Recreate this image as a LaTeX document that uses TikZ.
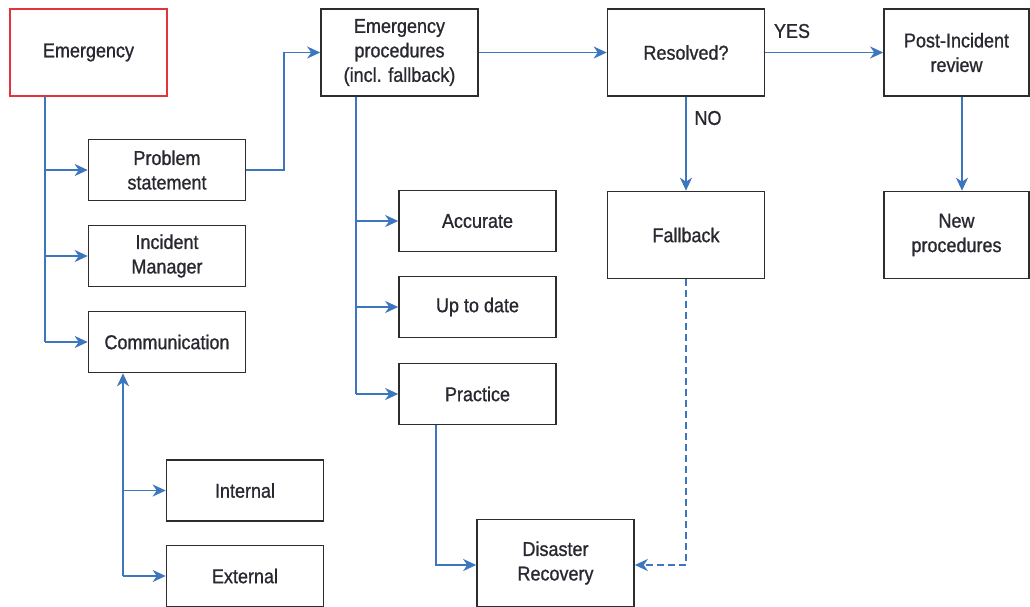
\documentclass[tikz,border=0pt]{standalone}
\usepackage{fontspec}
\setmainfont{Liberation Sans}[FakeStretch=0.9,FakeBold=1]
\usetikzlibrary{arrows.meta}
\definecolor{linkblue}{RGB}{59,118,190}
\definecolor{boxgrey}{RGB}{45,45,45}
\definecolor{alertred}{RGB}{228,50,62}
\definecolor{txtgrey}{RGB}{40,40,48}
\begin{document}
\begin{tikzpicture}[x=1pt,y=1pt,yscale=-1,xscale=1,
  box/.style={draw=boxgrey,line width=1.6pt,minimum width=157pt,minimum height=61pt,
    inner sep=0pt,align=center,text=txtgrey,font=\fontsize{20}{24.5}\selectfont},
  tall/.style={box,minimum height=87pt},
  link/.style={draw=linkblue,line width=1.8pt},
  arr/.style={link,-{Stealth[length=13pt,width=12pt,inset=4pt]}},
  lbl/.style={text=txtgrey,font=\fontsize{20}{24.5}\selectfont}]
\useasboundingbox (0,0) rectangle (1030,606);

%Boxes, left column
\node [tall,draw=alertred] (emerg) at (88.5,52.5) {Emergency};
\node [box] (prob) at (167,170) {Problem\\statement};
\node [box] (incid) at (167,256) {Incident\\Manager};
\node [box] (comm) at (167,342) {Communication};
\node [box] (intern) at (245,490.5) {Internal};
\node [box] (extern) at (245,576) {External};

%Boxes, middle
\node [tall] (proc) at (399.5,52.5) {Emergency\\procedures\\(incl. fallback)};
\node [box] (accur) at (477.5,221) {Accurate};
\node [box] (uptod) at (477.5,307) {Up to date};
\node [box] (pract) at (477.5,394) {Practice};
\node [tall] (disast) at (555.5,563) {Disaster\\Recovery};

%Boxes, right
\node [tall] (resolv) at (686,52.5) {Resolved?};
\node [tall] (fallb) at (686,235) {Fallback};
\node [tall,minimum width=145pt] (review) at (956.5,52.5) {Post-Incident\\review};
\node [tall,minimum width=145pt] (newproc) at (956.5,235) {New\\procedures};

%Labels
\node [lbl] (yes) at (792,31) {YES};
\node [lbl] (no) at (708,118) {NO};

%Bus points
\coordinate (ebus) at (45,342);
\coordinate (pbus) at (356,394);
\coordinate (cbus) at (123,576);
\coordinate (pjog) at (284,170);
\coordinate (djog) at (436,565);
\coordinate (rbus) at (962,52.5);

%Emergency branches
\draw [link] (emerg.south -| ebus) -- (ebus);
\draw [arr] (ebus |- prob) -- (prob.west);
\draw [arr] (ebus |- incid) -- (incid.west);
\draw [arr] (ebus) -- (comm.west);

%Problem statement to procedures
\draw [arr] (prob.east) -- (pjog) -- (pjog |- proc) -- (proc.west);
\draw [arr] (proc.east) -- (resolv.west);
\draw [arr] (resolv.east) -- (review.west);
\draw [arr] (resolv.south) -- (fallb.north);
\draw [arr] (review.south -| rbus) -- (rbus |- newproc.north);

%Procedures branches
\draw [link] (proc.south -| pbus) -- (pbus);
\draw [arr] (pbus |- accur) -- (accur.west);
\draw [arr] (pbus |- uptod) -- (uptod.west);
\draw [arr] (pbus) -- (pract.west);

%Communication branches
\draw [arr] (cbus) -- (cbus |- comm.south);
\draw [arr] (cbus |- intern) -- (intern.west);
\draw [arr] (cbus) -- (extern.west);

%Disaster recovery
\draw [arr] (pract.south -| djog) -- (djog) -- (djog -| disast.west);
\draw [arr,dash pattern=on 7pt off 4pt] (fallb.south) -- (fallb.south |- djog) -- (djog -| disast.east);
\end{tikzpicture}
\end{document}
